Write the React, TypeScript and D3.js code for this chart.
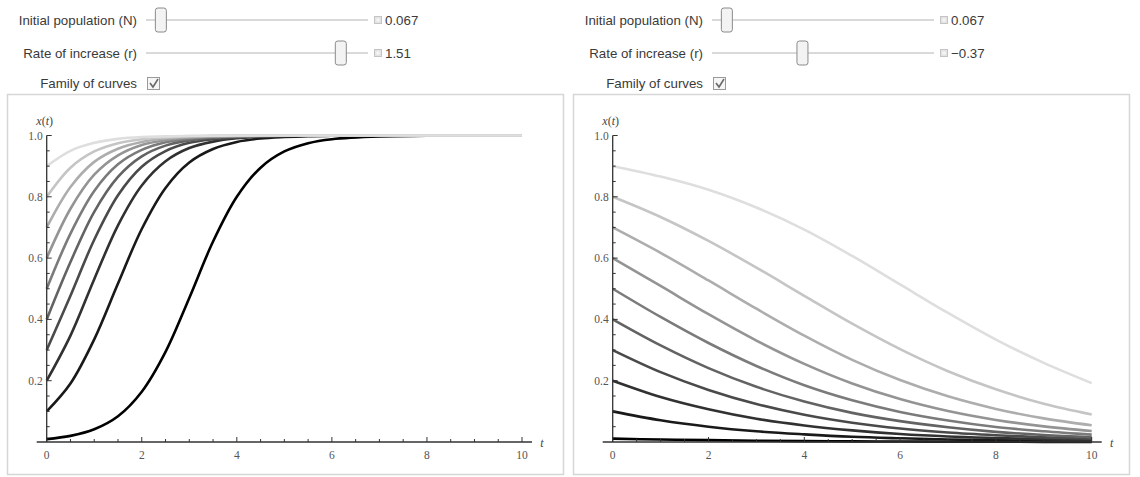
import * as d3 from 'd3';
import React from 'react';

// time samples for each panel
const timesLeft = [0, 0.5, 1, 1.5, 2, 2.5, 3, 3.5, 4, 4.5, 5, 5.5, 6, 7, 8, 10];
const timesRight = [0, 1, 2, 3, 4, 5, 6, 7, 8, 9, 10];

// family of curves, r = 1.51 (darkest first)
const curvesLeft = [
  [0.0095, 0.02, 0.0415, 0.084, 0.164, 0.294, 0.47, 0.654, 0.8, 0.895, 0.948, 0.975, 0.988, 0.997, 0.999, 1],
  [0.1, 0.191, 0.335, 0.517, 0.695, 0.829, 0.912, 0.956, 0.979, 0.99, 0.995, 0.998, 0.999, 1, 1, 1],
  [0.2, 0.347, 0.531, 0.707, 0.837, 0.916, 0.959, 0.98, 0.991, 0.996, 0.998, 0.999, 1, 1, 1, 1],
  [0.3, 0.477, 0.66, 0.805, 0.898, 0.949, 0.976, 0.988, 0.994, 0.997, 0.999, 1, 1, 1, 1, 1],
  [0.4, 0.587, 0.751, 0.865, 0.932, 0.967, 0.984, 0.992, 0.996, 0.998, 0.999, 1, 1, 1, 1, 1],
  [0.5, 0.68, 0.819, 0.906, 0.953, 0.978, 0.989, 0.995, 0.998, 0.999, 0.999, 1, 1, 1, 1, 1],
  [0.6, 0.761, 0.872, 0.935, 0.969, 0.985, 0.993, 0.997, 0.998, 0.999, 1, 1, 1, 1, 1, 1],
  [0.7, 0.832, 0.914, 0.957, 0.979, 0.99, 0.995, 0.998, 0.999, 1, 1, 1, 1, 1, 1, 1],
  [0.8, 0.895, 0.948, 0.975, 0.988, 0.994, 0.997, 0.999, 0.999, 1, 1, 1, 1, 1, 1, 1],
  [0.9, 0.95, 0.976, 0.989, 0.995, 0.997, 0.999, 0.999, 1, 1, 1, 1, 1, 1, 1, 1],
];

// family of curves, r = -0.37 (right plot)
const curvesRight = [
  [0.011, 0.008, 0.006, 0.004, 0.003, 0.002, 0.0015, 0.001, 0.0007, 0.0005, 0.0003],
  [0.1, 0.071, 0.05, 0.035, 0.025, 0.017, 0.012, 0.008, 0.006, 0.004, 0.003],
  [0.2, 0.147, 0.107, 0.076, 0.054, 0.038, 0.026, 0.018, 0.013, 0.009, 0.006],
  [0.3, 0.228, 0.17, 0.124, 0.089, 0.063, 0.044, 0.031, 0.022, 0.015, 0.0105],
  [0.4, 0.315, 0.241, 0.18, 0.132, 0.095, 0.068, 0.048, 0.033, 0.023, 0.016],
  [0.5, 0.408, 0.323, 0.248, 0.185, 0.136, 0.098, 0.07, 0.049, 0.035, 0.024],
  [0.6, 0.509, 0.417, 0.331, 0.255, 0.191, 0.14, 0.101, 0.072, 0.051, 0.036],
  [0.7, 0.617, 0.527, 0.435, 0.347, 0.268, 0.202, 0.149, 0.108, 0.077, 0.0545],
  [0.8, 0.734, 0.656, 0.569, 0.477, 0.386, 0.303, 0.231, 0.172, 0.125, 0.09],
  [0.9, 0.866, 0.823, 0.765, 0.693, 0.607, 0.514, 0.421, 0.334, 0.258, 0.192],
];

const yMajor = [0.2, 0.4, 0.6, 0.8, 1.0];
const yTickLabels = ['0.2', '0.4', '0.6', '0.8', '1.0'];
const xMajor = [0, 2, 4, 6, 8, 10];
const xTickLabels = ['0', '2', '4', '6', '8', '10'];

const sliderLabels = ['Initial population (N)', 'Rate of increase (r)'];
const checkboxLabel = 'Family of curves';
const nValues = [0.067, 0.067];
const rValues = [1.51, -0.37];
const nTexts = ['0.067', '0.067'];
const rTexts = ['1.51', '\u22120.37'];

const ctrlFont = '"Liberation Sans", Arial, sans-serif';
const tickFont = '"Liberation Serif", "Times New Roman", serif';

const Slider = ({y, x0, x1, pos, text}) => (
  <g>
    <line x1={x0} x2={x1} y1={y} y2={y} stroke="#b4b4b4" strokeWidth={1}/>
    <rect x={pos - 5.5} y={y - 12} width={11} height={24} rx={2.5}
      fill="#f3f3f3" stroke="#8a8a8a" strokeWidth={1}/>
    <rect x={x1 + 6.5} y={y - 3.5} width={7} height={7} fill="#e4e4e4" stroke="#c4c4c4"/>
    <path d={`M${x1 + 8},${y}h4M${x1 + 10},${y - 2}v4`} stroke="#fafafa" strokeWidth={1}/>
    <text x={x1 + 17} y={y + 4.5} fontFamily={ctrlFont} fontSize={13.3} fill="#3a3a3a">{text}</text>
  </g>
);

const Panel = ({idx, dx, x0, x10, times, curves}) => {
  const xScale = d3.scaleLinear().domain([0, 10]).range([x0, x10]);
  const yScale = d3.scaleLinear().domain([0, 1]).range([442, 135.5]);
  const nScale = d3.scaleLinear().domain([0, 1]).range([dx + 146, dx + 368]);
  const rScale = d3.scaleLinear().domain([-2, 2]).range([dx + 146, dx + 368]);
  const shade = d3.scaleLinear<string>().domain([0, curves.length - 1]).range(['#000000', '#dedede']);

  const line = d3.line<number>()
    .x((d, i) => xScale(times[i]))
    .y(d => yScale(d))
    .curve(d3.curveCatmullRom.alpha(0.5));

  const yTicks = yScale.ticks(20);
  const xTicks = xScale.ticks(20);
  const textEnd = dx + 137;

  return (
    <g>
      {/* controls */}
      <text x={textEnd} y={24.5} textAnchor="end" fontFamily={ctrlFont} fontSize={13.3} fill="#3a3a3a">{sliderLabels[0]}</text>
      <Slider y={20} x0={dx + 146} x1={dx + 368} pos={nScale(nValues[idx])} text={nTexts[idx]}/>
      <text x={textEnd} y={57.5} textAnchor="end" fontFamily={ctrlFont} fontSize={13.3} fill="#3a3a3a">{sliderLabels[1]}</text>
      <Slider y={53} x0={dx + 146} x1={dx + 368} pos={rScale(rValues[idx])} text={rTexts[idx]}/>
      <text x={textEnd} y={88} textAnchor="end" fontFamily={ctrlFont} fontSize={13.3} fill="#3a3a3a">{checkboxLabel}</text>
      <rect x={dx + 147.5} y={77.5} width={12} height={12} fill="#f6f6f6" stroke="#9a9a9a"/>
      <path d={`M${dx + 150},83l3,4l5,-8`} fill="none" stroke="#6a6a6a" strokeWidth={1.6}/>

      {/* frame */}
      <rect x={dx + 7.5} y={94.5} width={556} height={380} fill="#fff" stroke="#d6d6d6" strokeWidth={1.5}/>

      {/* curves */}
      {curves.map((c, i) => (
        <path key={i} d={line(c)} fill="none" stroke={shade(i)} strokeWidth={2.6} strokeLinejoin="round"/>
      ))}

      {/* y axis */}
      <line x1={x0} x2={x0} y1={yScale(1)} y2={yScale(0)} stroke="#333" strokeWidth={1.3}/>
      {yTicks.filter(t => t > 0).map(t => {
        const major = yMajor.some(m => Math.abs(m - t) < 1e-6);
        return <line key={t} x1={x0} x2={x0 + (major ? 5 : 3)} y1={yScale(t)} y2={yScale(t)} stroke="#333" strokeWidth={1}/>;
      })}
      {yMajor.map((t, i) => (
        <text key={t} x={x0 - 4} y={yScale(t) + 4} textAnchor="end" fontFamily={tickFont} fontSize={11.5} fill="#555">{yTickLabels[i]}</text>
      ))}
      <text x={x0 - 2} y={125} textAnchor="middle" fontFamily={tickFont} fontSize={12} fill="#444">
        <tspan fontStyle="italic">x</tspan>(<tspan fontStyle="italic">t</tspan>)
      </text>

      {/* x axis */}
      <line x1={x0 - 10} x2={x10 + 10} y1={yScale(0)} y2={yScale(0)} stroke="#333" strokeWidth={1.3}/>
      {xTicks.map(t => {
        const major = xMajor.includes(t);
        return <line key={t} x1={xScale(t)} x2={xScale(t)} y1={yScale(0)} y2={yScale(0) - (major ? 5 : 3)} stroke="#333" strokeWidth={1}/>;
      })}
      {xMajor.map((t, i) => (
        <text key={t} x={xScale(t)} y={459} textAnchor="middle" fontFamily={tickFont} fontSize={11.5} fill="#555">{xTickLabels[i]}</text>
      ))}
      <text x={x10 + 20} y={447} textAnchor="middle" fontFamily={tickFont} fontSize={12} fontStyle="italic" fill="#444">t</text>
    </g>
  );
};

export default function App() {
  return (
    <div style={{position: 'absolute', left: 0, top: 0}}>
      <svg width={1140} height={477} style={{display: 'block', background: '#fff'}}>
        <Panel idx={0} dx={0} x0={46.7} x10={522} times={timesLeft} curves={curvesLeft}/>
        <Panel idx={1} dx={566} x0={612.7} x10={1091.7} times={timesRight} curves={curvesRight}/>
      </svg>
    </div>
  );
}
